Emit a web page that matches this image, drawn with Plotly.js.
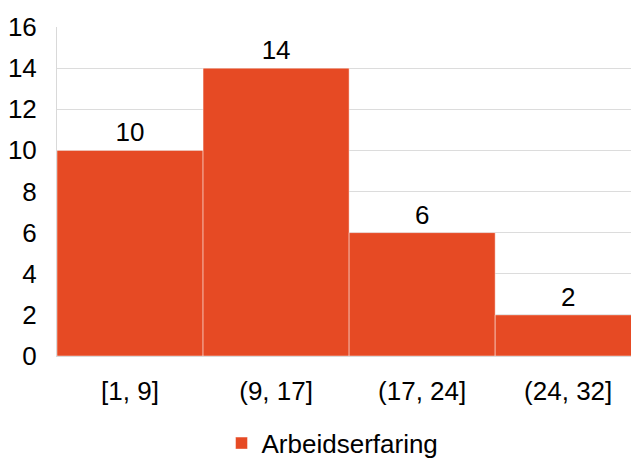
<!DOCTYPE html>
<html>
<head>
<meta charset="utf-8">
<script src="https://cdn.plot.ly/plotly-3.0.1.min.js"></script>
<style>html,body{margin:0;padding:0;background:#fff;}#chart{width:631px;height:462px;}</style>
</head>
<body>
<div id="chart"></div>
<script>
const categories = ["[1, 9]", "(9, 17]", "(17, 24]", "(24, 32]"];
const counts = [10, 14, 6, 2];
const seriesName = "Arbeidserfaring";
const yTicks = [0, 2, 4, 6, 8, 10, 12, 14, 16];

const trace = {
  type: "bar",
  x: categories,
  y: counts,
  name: seriesName,
  text: counts.map(String),
  textposition: "outside",
  textfont: {family: "Liberation Sans, Arial, sans-serif", size: 26, color: "#000"},
  cliponaxis: false,
  marker: {color: "#E64A24", line: {color: "rgba(255,255,255,0.45)", width: 1}},
  showlegend: true
};

const layout = {
  width: 631, height: 462,
  margin: {l: 57, r: 0, t: 27, b: 106, autoexpand: false},
  paper_bgcolor: "#fff", plot_bgcolor: "#fff",
  bargap: 0,
  font: {family: "Liberation Sans, Arial, sans-serif", size: 26, color: "#000"},
  xaxis: {
    type: "category",
    range: [-0.5, 3.43],
    showgrid: false,
    showline: true, linecolor: "#d9d9d9", linewidth: 1,
    ticks: "outside", ticklen: 12, tickcolor: "rgba(0,0,0,0)",
    tickfont: {size: 26, color: "#000"}
  },
  yaxis: {
    range: [0, 16],
    tickvals: yTicks,
    showgrid: true, gridcolor: "#dcdcdc", gridwidth: 1,
    zeroline: false,
    showline: true, linecolor: "#d9d9d9", linewidth: 1,
    ticks: "outside", ticklen: 14, tickcolor: "rgba(0,0,0,0)",
    tickfont: {size: 26, color: "#000"}
  },
  legend: {
    orientation: "h", x: 0.48, xanchor: "center", y: -0.265, yanchor: "middle",
    font: {size: 26, color: "#000"}
  },
  showlegend: true
};

Plotly.newPlot("chart", [trace], layout, {displayModeBar: false, staticPlot: true});
</script>
</body>
</html>
